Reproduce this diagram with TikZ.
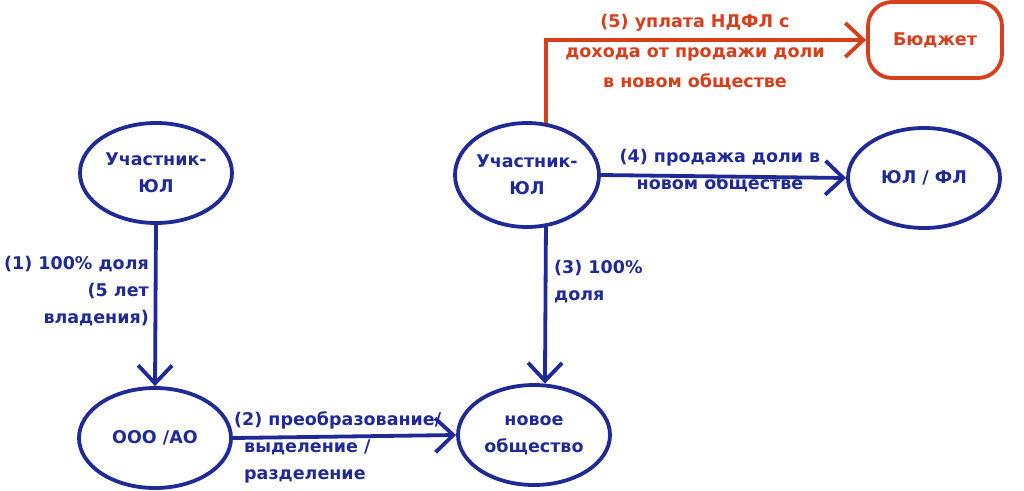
\documentclass[tikz,border=0pt]{standalone}
\usepackage{fontspec}
\setmainfont{DejaVu Sans}
\usetikzlibrary{arrows.meta,shapes.geometric}
\definecolor{navy}{RGB}{32,42,150}
\definecolor{rust}{RGB}{215,62,28}
\begin{document}
\begin{tikzpicture}[x=1pt,y=-1pt,
  txt/.style={font=\bfseries\fontsize{17.5}{27}\selectfont},
  ent/.style={txt, ellipse, draw=navy, line width=3.8pt, text=navy, minimum width=152pt, minimum height=100pt, align=center, inner sep=0pt},
  budget/.style={txt, rectangle, rounded corners=24pt, draw=rust, line width=3.8pt, text=rust, minimum width=134pt, minimum height=76pt, align=center},
  flow/.style={draw=navy, line width=3.8pt, -{Straight Barb[length=18pt,width=34pt,line width=3.8pt]}},
  redflow/.style={draw=rust, line width=3.8pt, -{Straight Barb[length=18pt,width=34pt,line width=3.8pt]}},
  lbl/.style={txt, text=navy, inner sep=1pt},
  rlbl/.style={txt, text=rust, inner sep=1pt},
]
\useasboundingbox (0,0) rectangle (1024,490);

\node[ent] (u1) at (156,173) {Участник-\\ЮЛ};
\node[ent] (ooo) at (155,438) {ООО /АО};
\node[ent, minimum width=144pt, minimum height=104pt] (u2) at (527,175) {Участник-\\ЮЛ};
\node[ent] (fl) at (924,178) {ЮЛ / ФЛ};
\node[ent] (new) at (534,435) {новое\\общество};
\node[budget] (b) at (935,40) {Бюджет};

\draw[flow] (u1.south) -- (ooo.north);
\draw[flow] (ooo.east) -- (new.west);
\draw[flow] (u2.-70) -- (new.78);
\draw[flow] (u2.east) -- (fl.west);
\draw[redflow] (u2.70) |- (b.west);

\node[lbl, align=right, anchor=east] (l1) at (150,291) {(1) 100\% доля\\(5 лет\\владения)};
\node[lbl, align=left, anchor=west] (l2) at (233,447) {(2) преобразование/\\\hspace*{10pt}выделение /\\\hspace*{10pt}разделение};
\node[lbl, align=left, anchor=west] (l3) at (553,282) {(3) 100\%\\доля};
\node[lbl, align=center] (l4) at (720,171) {(4) продажа доли в\\новом обществе};
\node[rlbl, align=center, font=\bfseries\fontsize{17.5}{30}\selectfont] (l5) at (695,52) {(5) уплата НДФЛ с\\дохода от продажи доли\\в новом обществе};
\end{tikzpicture}
\end{document}
